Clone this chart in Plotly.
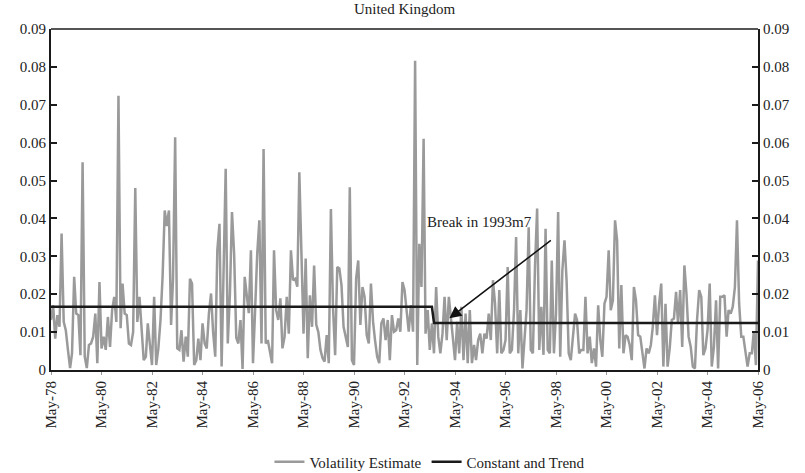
import pandas as pd
import plotly.graph_objects as go

# ---- data (monthly, May-1978 .. May-2006) ----
vol_1978_1981 = [0.0132, 0.0171, 0.0083, 0.0145, 0.0114, 0.036, 0.0127, 0.0105, 0.0053, 0.0005,
                 0.0044, 0.0246, 0.0149, 0.0145, 0.0039, 0.0548, 0.0035, 0.0005, 0.0066, 0.0070,
                 0.0088, 0.0149, 0.0018, 0.0232, 0.0057, 0.0088, 0.0053, 0.0140, 0.0061, 0.0158,
                 0.0193, 0.0127, 0.0724, 0.0110, 0.0228, 0.0149, 0.0145, 0.0070, 0.0066, 0.010,
                 0.048, 0.0127]
vol_1981_1985 = [0.0193, 0.0123, 0.0026, 0.0035, 0.0123, 0.0066, 0.0013, 0.0193, 0.0013, 0.0057,
                 0.0132, 0.0246, 0.0421, 0.0380, 0.0421, 0.0119, 0.024, 0.0614, 0.0057, 0.0053,
                 0.0105, 0.0022, 0.0088, 0.0035, 0.0241, 0.0228, 0.0013, 0.0026, 0.0083, 0.0026,
                 0.0123, 0.0070, 0.0057, 0.0149, 0.0202, 0.010, 0.0035, 0.0316, 0.0386, 0.0009,
                 0.0254, 0.0531]
vol_1985_1988 = [0.0070, 0.020, 0.0417, 0.0307, 0.0085, 0.0070, 0.0132, 0.0003, 0.0246, 0.0202,
                 0.015, 0.0316, 0.0018, 0.016, 0.0307, 0.0395, 0.0070, 0.0583, 0.0070, 0.0079,
                 0.005, 0.0018, 0.0316, 0.0158, 0.0132, 0.0189, 0.0057, 0.0088, 0.0193, 0.0096,
                 0.0316, 0.0237, 0.0241, 0.022, 0.0522, 0.028, 0.0096, 0.0294, 0.0031, 0.0197,
                 0.0114, 0.0276]
vol_1988_1992 = [0.0120, 0.0100, 0.0053, 0.0031, 0.0022, 0.0092, 0.0018, 0.0425, 0.0167, 0.0039,
                 0.0272, 0.0268, 0.0224, 0.0114, 0.009, 0.0061, 0.0482, 0.0026, 0.0013, 0.0241,
                 0.0289, 0.0119, 0.0219, 0.0193, 0.0092, 0.0070, 0.0228, 0.0127, 0.0079, 0.0035,
                 0.0018, 0.0123, 0.0136, 0.0079, 0.0132, 0.0026, 0.0145, 0.0101, 0.0105, 0.0136,
                 0.0101, 0.0232, 0.0211, 0.0149]
vol_1992_1995 = [0.0101, 0.0171, 0.0101, 0.0816, 0.0013, 0.0333, 0.0219, 0.0610, 0.0096, 0.0158,
                 0.0053, 0.0123, 0.0044, 0.0219, 0.0088, 0.0044, 0.0096, 0.0193, 0.0079, 0.0193,
                 0.0149, 0.0083, 0.0026, 0.0127, 0.0044, 0.0167, 0.0026, 0.0149, 0.0018, 0.0158,
                 0.0018, 0.0066, 0.0026, 0.0079, 0.0096, 0.0044, 0.0096, 0.0083, 0.0149, 0.0079,
                 0.0237, 0.0175]
vol_1995_1999 = [0.0044, 0.0211, 0.0044, 0.0053, 0.0079, 0.0272, 0.0044, 0.0053, 0.0158, 0.0351,
                 0.0044, 0.0158, 0.0004, 0.010, 0.0158, 0.0377, 0.0053, 0.0044, 0.0272, 0.0426,
                 0.0053, 0.0167, 0.0040, 0.0373, 0.0053, 0.0044, 0.0289, 0.0044, 0.0149, 0.0417,
                 0.0035, 0.0263, 0.0342, 0.0237, 0.0044, 0.0026, 0.008, 0.0149, 0.0132, 0.0044,
                 0.0053, 0.0053, 0.0193]
vol_1999_2002 = [0.0044, 0.0088, 0.0018, 0.0057, 0.0009, 0.0171, 0.0079, 0.0035, 0.0175, 0.0193,
                 0.0316, 0.0158, 0.0184, 0.0395, 0.0342, 0.0057, 0.0224, 0.0044, 0.0092, 0.0088,
                 0.0066, 0.0026, 0.0219, 0.0184, 0.0092, 0.0088, 0.0048, 0.0004, 0.0057, 0.0044,
                 0.0066, 0.0114, 0.0197, 0.0092, 0.0175, 0.0228, 0.0009, 0.0175, 0.0009, 0.0057,
                 0.0132, 0.0136, 0.0206]
vol_2002_2006 = [0.0123, 0.0211, 0.0061, 0.0276, 0.0202, 0.0088, 0.0061, 0.0009, 0.0004, 0.0132,
                 0.0211, 0.0193, 0.0039, 0.0057, 0.0105, 0.0228, 0.0009, 0.0060, 0.0184, 0.0004,
                 0.0193, 0.0193, 0.0197, 0.0088, 0.0158, 0.0149, 0.0167, 0.0219, 0.0395, 0.0175,
                 0.0088, 0.0088, 0.0053, 0.0009, 0.0044, 0.0044, 0.0101, 0.0013, 0.0289]

volatility = (vol_1978_1981 + vol_1981_1985 + vol_1985_1988 + vol_1988_1992 +
              vol_1992_1995 + vol_1995_1999 + vol_1999_2002 + vol_2002_2006)

months = pd.date_range("1978-05-01", periods=len(volatility), freq="MS")

level_before_break = 0.0167
level_after_break = 0.0124
break_month = pd.Timestamp("1993-07-01")
trend = [level_before_break if m < break_month else level_after_break for m in months]

tick_dates = pd.date_range("1978-05-01", "2006-05-01", freq="24MS")
tick_labels = ["May-%02d" % (d.year % 100) for d in tick_dates]
y_ticks = [0, 0.01, 0.02, 0.03, 0.04, 0.05, 0.06, 0.07, 0.08, 0.09]
y_tick_labels = ["0", "0.01", "0.02", "0.03", "0.04", "0.05", "0.06", "0.07", "0.08", "0.09"]

FONT = "Liberation Serif, Times New Roman, serif"

fig = go.Figure()
fig.add_trace(go.Scatter(x=months, y=volatility, mode="lines", name="Volatility Estimate",
                         line=dict(color="#9a9a9a", width=2.5)))
fig.add_trace(go.Scatter(x=months, y=trend, mode="lines", name="Constant and Trend",
                         line=dict(color="#1a1a1a", width=2.5)))
# invisible helper trace to activate the right-hand axis
fig.add_trace(go.Scatter(x=months, y=trend, mode="lines", yaxis="y2", showlegend=False,
                         hoverinfo="skip", line=dict(color="rgba(0,0,0,0)", width=0)))

axis_font = dict(family=FONT, size=15, color="#222")
yax = dict(range=[0, 0.09], tickvals=y_ticks, ticktext=y_tick_labels, ticks="inside",
           ticklen=6, tickwidth=1.5, tickcolor="#1a1a1a", showline=True, linewidth=2,
           linecolor="#1a1a1a", showgrid=False, zeroline=False, tickfont=axis_font,
           automargin=False)

fig.update_layout(
    width=805, height=473, autosize=False,
    margin=dict(l=51, r=47, t=29, b=103),
    paper_bgcolor="white", plot_bgcolor="white",
    font=dict(family=FONT, color="#222"),
    title=dict(text="United Kingdom", x=0.5, xref="paper", xanchor="center",
               y=(473 - 9) / 473, yref="container", yanchor="middle",
               font=dict(family=FONT, size=15, color="#222")),
    xaxis=dict(type="date", range=[months[0], months[-1]], tickvals=list(tick_dates),
               ticktext=tick_labels, tickangle=-90, ticks="outside", ticklen=3,
               tickcolor="#999", showline=True, linewidth=2, linecolor="#1a1a1a",
               showgrid=False, zeroline=False, tickfont=axis_font, automargin=False),
    yaxis=yax,
    yaxis2=dict(yax, overlaying="y", side="right", anchor="x"),
    showlegend=True,
    legend=dict(orientation="h", xref="paper", x=0.536, xanchor="center",
                yref="container", y=(473 - 462) / 473, yanchor="middle",
                font=dict(family=FONT, size=15, color="#222"), bgcolor="rgba(0,0,0,0)",
                itemwidth=30, tracegroupgap=0),
    shapes=[dict(type="line", xref="paper", yref="paper", x0=0, x1=1, y0=1, y1=1,
                 line=dict(color="#555", width=2))],
    annotations=[
        dict(text="Break in 1993m7", xref="paper", yref="paper", x=0.683, y=0.434,
             showarrow=False, font=dict(family=FONT, size=15, color="#222")),
        dict(text="", xref="paper", yref="paper", x=0.5634, y=0.1516, ax=103, ay=-79,
             showarrow=True, arrowhead=2, arrowsize=1.6, arrowwidth=1.5,
             arrowcolor="#111"),
    ],
)

fig.write_html("out.html", config={"displayModeBar": False},
               post_script="document.body.style.margin='0px';")
